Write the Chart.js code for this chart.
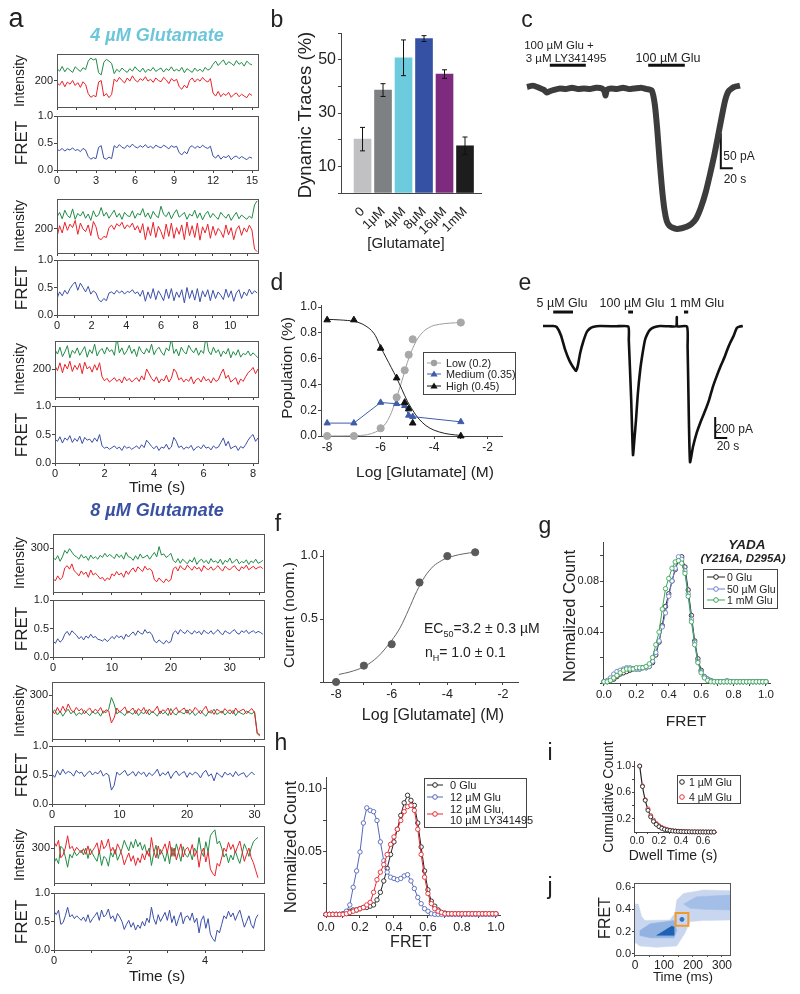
<!DOCTYPE html>
<html><head><meta charset="utf-8">
<script src="https://cdn.jsdelivr.net/npm/chart.js@4.4.1/dist/chart.umd.min.js"></script>
<style>
html,body{margin:0;padding:0;background:#fff;}
#fig{position:relative;width:800px;height:994px;overflow:hidden;font-family:"Liberation Sans",Arial,sans-serif;color:#222;background:#fff;}
#fig canvas{position:absolute;}
.t{position:absolute;white-space:nowrap;transform:translate(-50%,-50%);line-height:1;z-index:3;}
.r{transform:translate(-50%,-50%) rotate(-90deg);}
.lg{position:absolute;border:1px solid #444;background:#fff;box-sizing:border-box;z-index:1;}
#ov{position:absolute;left:0;top:0;z-index:2;}
</style></head><body><div id="fig"></div>
<script>
// ---------- data: panel a, smFRET traces (intensity in a.u., FRET, time step per trace) ----------
const green1 = [238,230,245,228,240,233,226,244,236,229,241,235,262,272,266,270,225,218,258,268,262,255,
  222,236,228,240,232,226,238,230,244,234,228,240,226,236,231,242,229,235,240,227,238,232,244,230,236,
  230,242,225,238,232,226,240,230,236,228,242,233,238,
  252,262,248,258,266,250,260,255,248,264,252,258,246,262,254,250];
const red1 = [192,185,198,180,195,188,200,184,193,178,196,187,158,146,152,148,195,200,150,158,145,155,
  205,196,210,200,192,208,198,215,202,195,206,200,212,198,204,194,208,200,196,210,202,190,206,198,204,
  180,172,185,176,200,208,195,205,198,210,200,195,206,
  160,150,165,148,158,152,162,146,155,160,148,156,150,145,158,152];
const fret1 = [.38,.36,.40,.35,.39,.37,.41,.36,.38,.34,.40,.37,.25,.20,.23,.21,.42,.45,.22,.20,.24,.21,
  .45,.41,.47,.42,.40,.46,.42,.48,.43,.41,.45,.42,.47,.41,.44,.40,.46,.43,.41,.46,.43,.39,.45,.42,.44,
  .32,.28,.34,.30,.42,.45,.40,.44,.41,.46,.42,.40,.44,
  .26,.22,.28,.20,.25,.23,.27,.19,.24,.26,.21,.25,.22,.19,.24,.22];

const green2 = [245,262,238,270,250,242,275,236,258,248,265,240,256,232,268,246,
  252,280,248,262,240,255,270,244,258,236,262,250,246,268,240,258,
  252,276,244,260,238,266,250,242,285,255,246,264,238,258,272,244,
  252,262,236,256,248,270,240,260,234,254,266,242,258,246,236,262,
  250,240,256,232,248,262,238,252,244,236,248,240,290,305];
const red2 = [170,212,185,225,195,218,205,232,180,222,200,190,215,175,228,208,
  165,160,172,168,205,214,198,220,210,225,200,215,206,222,196,212,
  185,220,160,208,175,225,168,210,190,162,218,172,222,165,205,180,
  215,160,226,175,212,168,222,158,208,185,218,165,210,176,202,190,
  168,215,178,205,160,198,212,176,204,188,214,196,125,115];
const fret2 = [.30,.42,.35,.45,.38,.48,.55,.60,.45,.58,.50,.42,.52,.38,.44,.40,
  .28,.24,.30,.26,.40,.42,.38,.45,.40,.44,.38,.43,.41,.46,.39,.42,
  .34,.45,.25,.42,.30,.48,.28,.44,.36,.26,.47,.30,.48,.26,.42,.32,
  .46,.22,.50,.30,.45,.27,.48,.24,.44,.33,.46,.26,.45,.30,.42,.36,
  .28,.47,.32,.44,.25,.40,.46,.30,.42,.35,.47,.38,.44,.40];

const green3 = [262,248,270,240,255,275,236,260,250,268,244,258,272,238,262,250,
  280,242,258,266,248,270,256,262,244,302,252,268,246,258,276,250,
  264,240,272,256,248,266,252,280,246,262,270,254,244,268,258,298,
  250,264,242,270,256,248,276,262,252,268,244,260,250,305,258,246,
  270,252,262,240,258,248,266,236,256,244,262,238,250,246,258,242,252,244,236];
const red3 = [210,195,220,188,215,200,225,192,212,198,218,185,222,200,208,190,
  214,196,220,175,162,170,158,165,172,160,168,155,175,162,170,158,
  166,172,160,178,165,200,185,170,160,175,155,168,162,180,158,170,
  200,190,165,172,158,168,160,175,152,166,170,158,176,162,168,155,
  172,160,165,185,200,170,180,158,165,172,150,168,160,175,188,195,205,185,200];
const fret3 = [.42,.38,.46,.35,.44,.40,.48,.36,.43,.38,.47,.34,.45,.40,.42,.36,
  .44,.38,.50,.30,.26,.28,.24,.27,.30,.25,.28,.22,.30,.26,.28,.24,
  .27,.30,.25,.32,.27,.40,.35,.29,.25,.30,.22,.28,.26,.33,.24,.28,
  .45,.38,.27,.30,.24,.28,.26,.31,.22,.27,.29,.25,.32,.26,.28,.23,
  .30,.26,.28,.36,.44,.30,.38,.25,.28,.30,.22,.29,.26,.32,.40,.46,.50,.38,.44];

const green4 = [268,260,274,255,270,292,282,298,286,275,
  270,262,278,266,272,258,276,264,270,262,275,268,282,270,278,
  272,264,280,268,276,262,285,270,268,258,274,262,280,266,270,276,262,274,
  285,270,305,276,280,268,274,282,
  258,250,264,248,262,254,246,260,252,268,244,256,262,250,258,246,
  264,252,256,248,262,244,258,252,266,248,256,262,246,254,250,260,
  244,256,250,262,248,252,258];
const red4 = [196,188,205,192,200,232,240,228,246,222,
  215,205,222,210,218,200,225,208,214,206,195,200,188,198,192,
  212,205,220,208,215,200,222,210,224,232,218,236,228,220,238,226,230,222,
  192,185,198,188,182,195,186,192,
  228,236,222,240,230,226,242,232,224,238,228,234,220,240,230,226,
  236,224,232,240,228,222,238,230,226,234,240,228,222,236,230,242,
  226,232,238,228,234,236,230];
const fret4 = [.28,.24,.32,.26,.30,.40,.45,.38,.46,.42,
  .38,.32,.36,.30,.37,.33,.40,.34,.36,.31,.30,.28,.32,.27,.31,
  .36,.32,.38,.34,.37,.31,.40,.35,.40,.44,.38,.46,.42,.40,.48,.42,.44,.39,
  .28,.25,.30,.26,.23,.29,.25,.27,
  .42,.46,.40,.48,.44,.41,.47,.43,.40,.46,.42,.45,.39,.47,.43,.41,
  .46,.40,.44,.48,.42,.39,.46,.43,.41,.45,.48,.42,.40,.46,.43,.47,
  .41,.44,.46,.42,.45,.43,.40];

const green5 = [238,250,232,245,228,242,252,236,246,230,240,234,248,238,230,244,
  236,242,228,246,240,252,292,270,236,244,238,230,246,240,234,248,
  230,242,236,250,232,244,238,228,246,236,242,230,254,238,232,246,
  240,236,250,234,244,230,240,248,236,228,244,238,252,234,240,246,
  232,242,236,248,230,244,238,234,246,240,236,244,170,165];
const red5 = [246,236,258,240,262,244,270,250,242,258,246,254,236,248,256,240,
  252,244,258,238,250,246,205,222,256,242,250,260,238,248,256,236,
  254,244,258,236,252,240,248,262,236,250,244,256,232,248,258,240,
  250,256,238,252,242,258,248,236,250,262,240,248,234,252,246,238,
  254,244,250,236,256,242,248,252,236,246,254,240,168,160];
const fret5 = [.52,.46,.58,.50,.60,.52,.56,.54,.48,.58,.53,.55,.47,.53,.57,.50,
  .55,.52,.58,.48,.53,.50,.24,.32,.55,.50,.54,.58,.49,.52,.56,.48,
  .56,.51,.55,.47,.54,.49,.53,.60,.48,.54,.50,.56,.44,.52,.57,.49,
  .53,.56,.46,.54,.50,.55,.52,.45,.54,.58,.48,.52,.40,.54,.50,.46,
  .55,.50,.53,.47,.56,.49,.52,.54,.46,.51,.55,.50];

const green6 = [258,270,255,305,298,275,245,282,272,290,278,286,294,280,300,270,
  298,284,272,262,292,250,276,270,248,288,274,296,265,280,298,322,
  306,292,318,300,325,304,316,294,310,282,300,250,284,308,270,296,
  282,262,292,255,302,276,312,288,262,304,280,274,290,266,300,286,
  330,290,276,318,288,335,345,352,312,320,300,274,284,258,280,266,
  292,272,256,284,312,296,276,300,318,325,330];
const red6 = [318,305,322,272,280,300,335,298,305,290,302,294,286,298,282,306,
  280,292,302,315,284,322,298,306,326,290,302,282,312,298,280,252,
  270,286,262,278,250,272,258,284,266,292,276,330,290,272,306,282,
  296,312,286,320,276,300,266,290,312,274,296,302,286,310,276,292,
  245,286,300,260,290,240,228,220,256,248,272,300,290,316,296,310,
  286,304,320,290,262,282,300,272,258,236,215];
const fret6 = [.68,.62,.70,.45,.48,.60,.75,.58,.62,.55,.60,.56,.52,.58,.50,.62,
  .48,.55,.60,.66,.52,.70,.58,.62,.72,.55,.60,.50,.64,.58,.50,.36,
  .45,.52,.40,.48,.35,.44,.38,.50,.42,.56,.48,.75,.55,.45,.62,.50,
  .58,.66,.52,.70,.48,.60,.42,.55,.66,.46,.58,.60,.52,.65,.48,.56,
  .30,.52,.60,.38,.55,.28,.20,.15,.35,.30,.45,.60,.55,.68,.58,.65,
  .52,.62,.70,.55,.40,.50,.60,.45,.38,.55,.62];

const timeTicks1 = [0, 3, 6, 9, 12, 15];
const timeTicks2 = [0, 2, 4, 6, 8, 10];
const timeTicks3 = [0, 2, 4, 6, 8];
const timeTicks4 = [0, 10, 20, 30];
const timeTicks5 = [0, 10, 20, 30];
const timeTicks6 = [0, 2, 4];

// ---------- panel b ----------
const bLabels = ['0', '1μM', '4μM', '8μM', '16μM', '1mM'];
const bValues = [20.2, 38.6, 50.7, 57.9, 44.6, 17.7];
const bErrors = [4.4, 2.4, 6.7, 1.1, 1.6, 3.3];
const bColors = ['#c1c1c3', '#7e8184', '#6ccbdc', '#3551a3', '#7d2a7f', '#1d1d1d'];

// ---------- panel c (time s, current pA) ----------
const cTime = [0,10,20,28,33,38,45,55,65,75,85,95,105,115,125,129,131,133,140,150,
  160,170,180,190,200,208,213,217,221,225,229,233,237,242,250,258,266,274,282,290,
  298,305,312,318,324,330,336,345,355];
const cCurrent = [0,2,-1,-4,-8,-6,-4,-2,-3,-1,-3,-2,-3,-1,-2,-6,-12,-4,-2,-3,
  -1,-3,-2,-1,-3,-5,-25,-60,-105,-145,-175,-192,-198,-201,-203,-202,-200,-196,-188,-172,
  -150,-125,-98,-72,-45,-20,-6,0,2];
const cApplyLY = [38, 98];
const cApplyGlu = [202, 263];
const cBarLevel = 31;
const cScaleT = [323, 343];
const cScaleI = [-66, -116];

// ---------- panel d ----------
const dLogC = [-8, -7, -6, -5.4, -5.1, -4.95, -4.8, -3];
const dLow = [0, 0, 0.06, 0.30, 0.51, 0.63, 0.75, 0.88];
const dMedium = [0.10, 0.10, 0.26, 0.25, 0.235, 0.16, 0.15, 0.11];
const dHigh = [0.90, 0.90, 0.68, 0.45, 0.26, 0.21, 0.10, 0.0];
const dLowFitX = [-8,-7,-6.5,-6.2,-6,-5.8,-5.6,-5.4,-5.2,-5,-4.8,-4.6,-4.4,-4.2,-4,-3.6,-3.2,-3];
const dLowFitY = [0,0.002,0.01,0.03,0.055,0.1,0.18,0.3,0.43,0.57,0.68,0.76,0.81,0.84,0.858,0.872,0.878,0.88];
const dHighFitX = [-8,-7.5,-7,-6.7,-6.4,-6.2,-6,-5.8,-5.6,-5.4,-5.2,-5,-4.8,-4.6,-4.3,-4,-3.6,-3.2,-3];
const dHighFitY = [0.905,0.9,0.89,0.87,0.83,0.78,0.69,0.61,0.53,0.45,0.36,0.27,0.2,0.14,0.08,0.045,0.02,0.008,0.005];

// ---------- panel e (time s, current pA) ----------
const eTime = [0,17,23,30,37,44,50,55,58,62,67,73,78,83,95,120,142,143,147,150,
  152,155,158,162,166,170,174,178,185,195,210,222,223,224,240,241,242,245,250,256,
  262,270,277,283,290,297,303,307,312,318,323,328,333];
const eCurrent = [0,0,-10,-90,-228,-330,-390,-428,-380,-257,-150,-57,-25,-10,0,-3,-5,-133,-705,-1228,
  -1100,-895,-650,-419,-260,-133,-75,-38,-12,0,-3,-2,85,-2,-5,-200,-514,-1295,-1150,-1020,
  -923,-810,-700,-581,-470,-370,-290,-228,-160,-90,-19,-5,0];
const eApply = [[17, 50], [142, 150], [235, 242]];
const eBarLevel = 133;
const eScaleT = [287, 307];
const eScaleI = [-866, -1066];

// ---------- panel f ----------
const fLogC = [-8, -7, -6, -5, -4, -3];
const fCurrent = [0.0, 0.13, 0.30, 0.79, 1.0, 1.03];
const fErr = [0, 0, 0, 0.025, 0, 0];
const fFitX = [-7.9,-7.5,-7,-6.5,-6,-5.7,-5.4,-5.1,-4.8,-4.5,-4.2,-4,-3.6,-3.2,-3];
const fFitY = [0.06,0.08,0.12,0.2,0.33,0.43,0.57,0.72,0.84,0.92,0.965,0.985,1.01,1.025,1.03];

// ---------- panels g, h (FRET histograms, bins every 0.02) ----------
const fretBins = [0,.02,.04,.06,.08,.10,.12,.14,.16,.18,.20,.22,.24,.26,.28,.30,.32,.34,.36,.38,.40,
  .42,.44,.46,.48,.50,.52,.54,.56,.58,.60,.62,.64,.66,.68,.70,.72,.74,.76,.78,.80,
  .82,.84,.86,.88,.90,.92,.94,.96,.98,1.0];
const gNoGlu = [.001,.001,.002,.003,.005,.007,.008,.009,.010,.011,.011,.011,.012,.012,.013,.016,.022,.032,.045,.060,.070,
  .080,.089,.096,.099,.091,.073,.053,.033,.019,.010,.005,.003,.002,.001,.001,.001,.001,.001,.001,.001,
  .001,.001,.001,.001,.001,.001,.001,.001,.001,.001];
const g50uM = [.001,.002,.004,.007,.009,.010,.011,.012,.012,.011,.011,.011,.012,.012,.013,.017,.024,.033,.044,.055,.068,
  .080,.090,.099,.097,.088,.070,.050,.032,.017,.009,.005,.003,.002,.001,.001,.001,.001,.002,.001,.001,
  .001,.001,.001,.001,.001,.001,.001,.001,.001,.001];
const g1mM = [.001,.001,.002,.004,.006,.008,.010,.011,.011,.011,.012,.012,.012,.013,.015,.020,.030,.040,.058,.074,.082,
  .090,.095,.096,.094,.086,.068,.048,.030,.016,.008,.004,.002,.001,.001,.001,.001,.001,.001,.001,.001,
  .001,.001,.001,.001,.001,.001,.001,.001,.001,.001];
const hNoGlu = [.0005,.0005,.0005,.0005,.0005,.001,.002,.003,.004,.004,.005,.006,.006,.007,.008,.012,.018,.027,.037,.048,.058,
  .068,.079,.089,.095,.091,.087,.073,.054,.035,.020,.011,.007,.004,.002,.0015,.001,.001,.001,.001,.001,
  .001,.001,.001,.001,.001,.001,.001,.001,.001,.001];
const h12uM = [.0005,.0005,.0005,.0005,.0005,.001,.003,.008,.022,.035,.050,.073,.085,.083,.082,.075,.058,.043,.034,.030,.029,
  .028,.029,.031,.032,.027,.021,.014,.009,.005,.003,.001,.0005,.0005,.0005,.0005,.0005,.0005,.0005,.0005,.0005,
  .0005,.0005,.0005,.0005,.0005,.0005,.0005,.0005,.0005,.0005];
const h12uMLY = [.0005,.0005,.0005,.0005,.0005,.0005,.001,.002,.003,.004,.005,.006,.008,.010,.018,.028,.034,.040,.048,.056,.062,
  .068,.075,.082,.086,.087,.083,.068,.048,.030,.017,.009,.005,.003,.002,.001,.001,.001,.001,.001,.001,
  .001,.001,.001,.001,.001,.001,.001,.001,.001,.001];

// ---------- panel i ----------
const iDwell = [.025,.05,.075,.1,.125,.15,.175,.2,.225,.25,.275,.3,.325,.35,.375,.4,.425,.45,.475,.5,.525,.55,.575,.6,.625,.65,.675,.7];
const i1uM = [1.0,.69,.48,.33,.23,.16,.115,.08,.056,.04,.03,.022,.016,.012,.009,.007,.005,.004,.003,.002,.002,.001,.001,.001,0,0,0,0];
const i4uM = [1.0,.70,.49,.35,.25,.18,.13,.095,.07,.05,.037,.027,.02,.015,.011,.008,.006,.005,.004,.003,.002,.002,.001,.001,.001,0,0,0];
const iFitX = [.025,.05,.075,.1,.125,.15,.2,.25,.3,.35,.4,.5,.6,.7];
const iFitY = [1.0,.69,.485,.34,.24,.17,.087,.045,.024,.013,.007,.002,.0008,.0003];

// ---------- panel j (contour regions: time ms, FRET) ----------
const jLight = [[-3.4,.447],[11.5,.447],[23,.334],[34.5,.30],[120,.304],[138,.364],[144,.483],[167,.543],[236,.573],[328,.567],
  [328,.304],[236,.30],[190,.29],[172,.185],[144,.072],[75,.06],[17,.072],[-3.4,.11]];
const jMid = [[17,.21],[52,.27],[135,.30],[144,.21],[135,.145],[52,.145],[17,.165]];
const jMidUpper = [[167,.447],[213,.513],[328,.528],[328,.394],[236,.40],[190,.41]];
const jDark = [[75,.167],[135,.167],[135,.242],[127,.25]];
const jMark = [162, 0.31];

// ---------- helpers ----------
const fig = document.getElementById('fig');
Chart.defaults.font.family = '"Liberation Sans", Arial, sans-serif';
Chart.defaults.color = '#222';

function canvasAt(l, t, w, h) {
  const c = document.createElement('canvas');
  c.width = w; c.height = h;
  c.style.left = l + 'px'; c.style.top = t + 'px';
  c.style.width = w + 'px'; c.style.height = h + 'px';
  fig.appendChild(c);
  return c;
}

const framePlugin = {
  id: 'frame',
  afterDraw(chart, args, opts) {
    if (!opts.on) return;
    const { ctx, chartArea: a } = chart;
    ctx.save();
    ctx.strokeStyle = '#555'; ctx.lineWidth = 1;
    ctx.strokeRect(Math.round(a.left) + 0.5, Math.round(a.top) + 0.5, Math.round(a.right - a.left), Math.round(a.bottom - a.top));
    ctx.restore();
  }
};

const errPlugin = {
  id: 'errbars',
  afterDatasetsDraw(chart) {
    const { ctx } = chart;
    const ys = chart.scales.y;
    chart.data.datasets.forEach((ds, di) => {
      if (!ds.errors) return;
      const meta = chart.getDatasetMeta(di);
      ctx.save();
      ctx.strokeStyle = ds.errColor || '#222';
      ctx.lineWidth = 1;
      meta.data.forEach((el, i) => {
        const e = ds.errors[i];
        if (!e) return;
        const v = ds.data[i].y;
        const x = el.x, yt = ys.getPixelForValue(v + e), yb = ys.getPixelForValue(v - e);
        const w = ds.capW || 2.5;
        ctx.beginPath();
        ctx.moveTo(x, yt); ctx.lineTo(x, yb);
        ctx.moveTo(x - w, yt); ctx.lineTo(x + w, yt);
        ctx.moveTo(x - w, yb); ctx.lineTo(x + w, yb);
        ctx.stroke();
      });
      ctx.restore();
    });
  }
};

function clearPad(s) { s.paddingLeft = s.paddingRight = s.paddingTop = s.paddingBottom = 0; }

function ax(min, max, ticks, fmt, o = {}) {
  return {
    type: 'linear', min, max, offset: false,
    afterBuildTicks: s => { s.ticks = ticks.map(v => ({ value: v })); },
    ticks: {
      display: !!fmt, callback: fmt ? (v => fmt(v)) : (() => ''), autoSkip: false,
      maxRotation: o.rot || 0, minRotation: o.rot || 0,
      padding: o.pad ?? 1, font: { size: o.size || 11 }, color: '#222'
    },
    grid: { display: true, drawOnChartArea: false, drawTicks: true, tickLength: o.tl ?? 3, color: '#444', lineWidth: 1 },
    border: { display: true, color: '#444', width: 1 }
  };
}

// pad = room (px) left / top / right / bottom of the plot area; the axes own the left and bottom room
function axisChart(area, pad, type, datasets, xs, ys, frame) {
  const [x0, y0, x1, y1] = area;
  const [pl, pt, pr, pb] = pad;
  xs.afterFit = s => { s.height = pb; clearPad(s); };
  ys.afterFit = s => { s.width = pl; clearPad(s); };
  const cv = canvasAt(x0 - pl, y0 - pt, x1 - x0 + pl + pr, y1 - y0 + pt + pb);
  return new Chart(cv, {
    type, data: { datasets },
    options: {
      responsive: false, animation: false, events: [],
      layout: { autoPadding: false, padding: { left: 0, top: pt, right: pr, bottom: 0 } },
      plugins: { legend: { display: false }, tooltip: { enabled: false }, frame: { on: !!frame } },
      scales: { x: xs, y: ys }
    },
    plugins: [framePlugin, errPlugin]
  });
}

function freeChart(l, t, w, h, xr, yr, datasets) {
  const cv = canvasAt(l, t, w, h);
  return new Chart(cv, {
    type: 'line', data: { datasets },
    options: {
      responsive: false, animation: false, events: [],
      layout: { autoPadding: false, padding: 0 },
      plugins: { legend: { display: false }, tooltip: { enabled: false } },
      scales: {
        x: { type: 'linear', display: false, min: xr[0], max: xr[1] },
        y: { type: 'linear', display: false, min: yr[0], max: yr[1] }
      }
    }
  });
}

const series = (vals, dt) => vals.map((v, i) => ({ x: i * dt, y: v }));
const pairs = (xs, ys) => xs.map((x, i) => ({ x, y: ys[i] }));
const poly = pts => pts.concat([pts[0]]).map(p => ({ x: p[0], y: p[1] }));
const line = (data, color, w, extra = {}) => Object.assign({ data, borderColor: color, borderWidth: w, pointRadius: 0, fill: false, clip: false }, extra);
const pts = (data, color, style, r, extra = {}) => Object.assign({ data, showLine: false, pointStyle: style, pointRadius: r, pointBackgroundColor: color, pointBorderColor: color, borderColor: color, clip: false }, extra);
const f1 = v => v.toFixed(1);
const onTicks = (list, f) => v => list.some(t => Math.abs(t - v) < 1e-6) ? f(v) : '';

function txt(x, y, s, size, o = {}) {
  const d = document.createElement('div');
  d.className = 't' + (o.rot ? ' r' : '');
  d.style.left = x + 'px'; d.style.top = y + 'px';
  d.style.fontSize = size + 'px';
  if (o.bold) d.style.fontWeight = 'bold';
  if (o.italic) d.style.fontStyle = 'italic';
  if (o.color) d.style.color = o.color;
  if (o.left) d.style.transform = 'translate(0,-50%)';
  d.innerHTML = s;
  fig.appendChild(d);
}
function legendBox(l, t, w, h) {
  const d = document.createElement('div');
  d.className = 'lg';
  d.style.left = l + 'px'; d.style.top = t + 'px';
  d.style.width = w + 'px'; d.style.height = h + 'px';
  fig.appendChild(d);
}

// ---------- panel a ----------
const GREEN = '#1f8c45', RED = '#ea2128', BLUE = '#3b4fa7';
const traces = [
  { I: [57, 54, 258, 107], F: [57, 116, 258, 170], xmax: 15.46, dt: 0.2, g: green1, r: red1, f: fret1, imin: 115, imax: 285, itick: 200, ticks: timeTicks1, minor: 1.5 },
  { I: [57, 199, 258, 253], F: [57, 260, 258, 315], xmax: 11.6, dt: 0.15, g: green2, r: red2, f: fret2, imin: 110, imax: 312, itick: 200, ticks: timeTicks2, minor: 1 },
  { I: [55, 341, 258, 397], F: [55, 406, 258, 463], xmax: 8.2, dt: 0.1, g: green3, r: red3, f: fret3, imin: 110, imax: 290, itick: 200, ticks: timeTicks3, minor: 1 },
  { I: [53, 534, 264, 592], F: [53, 600, 264, 657], xmax: 35.8, dt: 0.4, g: green4, r: red4, f: fret4, imin: 150, imax: 348, itick: 300, ticks: timeTicks4, minor: 5 },
  { I: [52, 682, 264, 739], F: [52, 746, 264, 804], xmax: 31.4, dt: 0.4, g: green5, r: red5, f: fret5, imin: 150, imax: 345, itick: 300, ticks: timeTicks5, minor: 5 },
  { I: [54, 826, 264, 883], F: [54, 893, 264, 950], xmax: 5.56, dt: 0.06, g: green6, r: red6, f: fret6, imin: 200, imax: 363, itick: 300, ticks: timeTicks6, minor: 1 }
];
traces.forEach(tr => {
  const minorTicks = [];
  for (let v = 0; v <= tr.xmax + 1e-9; v += tr.minor) minorTicks.push(+v.toFixed(4));
  axisChart(tr.I, [30, 2, 8, 8], 'line',
    [line(series(tr.r, tr.dt), RED, 1, { clip: 0 }), line(series(tr.g, tr.dt), GREEN, 1, { clip: 0 })],
    ax(0, tr.xmax, minorTicks, null),
    ax(tr.imin, tr.imax, [tr.itick], v => String(v)), true);
  axisChart(tr.F, [30, 6, 8, 16], 'line',
    [line(series(tr.f, tr.dt), BLUE, 1, { clip: 0 })],
    ax(0, tr.xmax, minorTicks, onTicks(tr.ticks, v => String(v))),
    ax(0, 1, [0, 0.5, 1], f1), true);
  txt(19, (tr.I[1] + tr.I[3]) / 2, 'Intensity', 14, { rot: true });
  txt(21, (tr.F[1] + tr.F[3]) / 2, 'FRET', 17, { rot: true });
});
txt(157, 35, '4 µM Glutamate', 18, { bold: true, italic: true, color: '#6cc6d9' });
txt(157, 510, '8 µM Glutamate', 18, { bold: true, italic: true, color: '#3a51a3' });
txt(157, 487, 'Time (s)', 15.5);
txt(157, 976, 'Time (s)', 15.5);

// ---------- panel b ----------
const bX = ax(-1.05, 5.78, [0, 1, 2, 3, 4, 5], v => bLabels[v], { rot: 45, size: 13, pad: 3, tl: 0 });
bX.grid = { display: false };
axisChart([341, 33, 481, 193], [40, 4, 10, 42], 'bar',
  [{ data: pairs([0, 1, 2, 3, 4, 5], bValues), backgroundColor: bColors, barThickness: 17, errors: bErrors, errColor: '#111' }],
  bX,
  ax(0, 60, [0, 10, 20, 30, 40, 50, 60], onTicks([10, 30, 50], v => String(v)), { size: 16, pad: 2 }));
txt(305, 115, 'Dynamic Traces (%)', 18.5, { rot: true });
txt(406, 242, '[Glutamate]', 15);

// ---------- panel c ----------
freeChart(520, 55, 225, 185, [-11.67, 363.33], [-218.8, 45.8], [
  line(pairs(cTime, cCurrent), '#3c3c3c', 6, { tension: 0.15 }),
  line(pairs(cApplyLY, [cBarLevel, cBarLevel]), '#111', 3),
  line(pairs(cApplyGlu, [cBarLevel, cBarLevel]), '#111', 3),
  line(pairs([cScaleT[0], cScaleT[0], cScaleT[1]], [cScaleI[0], cScaleI[1], cScaleI[1]]), '#111', 2)
]);
txt(559, 46, '100 µM Glu +', 11.5);
txt(566, 59, '3 µM LY341495', 11.5);
txt(668, 58, '100 µM Glu', 12.5);
txt(739, 156, '50 pA', 12);
txt(735, 179, '20 s', 12);

// ---------- panel d ----------
axisChart([321, 305, 502, 436], [45, 8, 10, 20], 'line', [
  pts(pairs(dLogC, dHigh), '#111', 'triangle', 3.8),
  pts(pairs(dLogC, dLow), '#a8a8a8', 'circle', 3.6),
  line(pairs(dLogC, dMedium), '#3f5cab', 1, { pointStyle: 'triangle', pointRadius: 3.6, pointBackgroundColor: '#3f5cab' }),
  line(pairs(dHighFitX, dHighFitY), '#222', 1, { tension: 0.3 }),
  line(pairs(dLowFitX, dLowFitY), '#9c9c9c', 1, { tension: 0.3 })
], ax(-8.23, -1.46, [-8, -7, -6, -5, -4, -3, -2], onTicks([-8, -6, -4, -2], v => String(v)), { size: 12, pad: 1 }),
   ax(0, 1.016, [0, 0.2, 0.4, 0.6, 0.8, 1.0], f1, { size: 12 }));
txt(287, 368, 'Population (%)', 15.5, { rot: true });
txt(425, 472, 'Log [Glutamate] (M)', 15.5);

// ---------- panel e ----------
const eSeries = [line(pairs(eTime, eCurrent), '#111', 2.6, { tension: 0.2 })];
eApply.forEach(a => eSeries.push(line(pairs(a, [eBarLevel, eBarLevel]), '#111', 3)));
eSeries.push(line(pairs([eScaleT[0], eScaleT[0], eScaleT[1]], [eScaleI[0], eScaleI[1], eScaleI[1]]), '#111', 2));
freeChart(535, 295, 215, 175, [-13.33, 345], [-1370.9, 295.1], eSeries);
txt(562, 303, '5 µM Glu', 12.5);
txt(632, 303, '100 µM Glu', 12.5);
txt(697, 303, '1 mM Glu', 12.5);
txt(734, 429, '200 pA', 12);
txt(728, 446, '20 s', 12);

// ---------- panel f ----------
axisChart([323, 550, 518, 682], [40, 6, 10, 20], 'line', [
  pts(pairs(fLogC, fCurrent), '#5a5a5a', 'circle', 3.6, { errors: fErr, errColor: '#555', capW: 2.5 }),
  line(pairs(fFitX, fFitY), '#666', 1, { tension: 0.3 })
], ax(-8.47, -1.46, [-8, -7, -6, -5, -4, -3, -2], onTicks([-8, -6, -4, -2], v => String(v)), { size: 12.5, pad: 2 }),
   ax(0, 1.048, [0, 0.5, 1.0], v => v === 0 ? '' : f1(v), { size: 12.5, pad: 2 }));
txt(289, 615, 'Current (norm.)', 15.5, { rot: true });
txt(433, 715, 'Log [Glutamate] (M)', 16);
txt(424, 630, 'EC<sub style="font-size:9px">50</sub>=3.2 ± 0.3 µM', 14, { left: true });
txt(425, 654, 'n<sub style="font-size:9px">H</sub>= 1.0 ± 0.1', 14, { left: true });

// ---------- panel g ----------
const ring = (data, color) => line(data, color, 1, { pointStyle: 'circle', pointRadius: 2.2, pointBorderWidth: 0.9, pointBackgroundColor: '#fff', pointBorderColor: color });
axisChart([603, 542, 770, 683], [40, 6, 10, 18], 'line', [
  ring(pairs(fretBins, g1mM), '#3aa757'),
  ring(pairs(fretBins, g50uM), '#6f7fcf'),
  ring(pairs(fretBins, gNoGlu), '#222')
], ax(-0.006, 1.025, [0, .1, .2, .3, .4, .5, .6, .7, .8, .9, 1.0], onTicks([0, .2, .4, .6, .8, 1], f1), { size: 11.5, pad: 2 }),
   ax(0, 0.1106, [0, 0.02, 0.04, 0.06, 0.08, 0.10], onTicks([0.04, 0.08], v => v.toFixed(2)), { size: 11 }));
txt(569, 616, 'Normalized Count', 16.5, { rot: true });
txt(686, 721, 'FRET', 15.5);
txt(747, 545, 'YADA', 13.5, { bold: true, italic: true });
txt(743, 559, '(Y216A, D295A)', 11.5, { bold: true, italic: true });
legendBox(703, 569, 75, 40);

// ---------- panel h ----------
axisChart([326, 777, 500, 915], [40, 6, 10, 18], 'line', [
  ring(pairs(fretBins, h12uMLY), '#ea2630'),
  ring(pairs(fretBins, h12uM), '#5566bb'),
  ring(pairs(fretBins, hNoGlu), '#222')
], ax(0, 1.024, [0, .1, .2, .3, .4, .5, .6, .7, .8, .9, 1.0], onTicks([0, .2, .4, .6, .8, 1], f1), { size: 12.5, pad: 2 }),
   ax(0, 0.1095, [0, 0.025, 0.05, 0.075, 0.10], onTicks([0.05, 0.10], v => v.toFixed(2)), { size: 12.5 }));
txt(290, 847, 'Normalized Count', 16.5, { rot: true });
txt(411, 942, 'FRET', 16);
legendBox(424, 778, 103, 50);

// ---------- panel i ----------
const ringSmall = (data, color) => pts(data, '#fff', 'circle', 2, { pointBorderColor: color, pointBorderWidth: 0.9 });
axisChart([634, 761, 716, 832], [30, 6, 30, 14], 'line', [
  ringSmall(pairs(iDwell, i1uM), '#222'),
  ringSmall(pairs(iDwell, i4uM), '#e8333a'),
  line(pairs(iFitX, iFitY), '#222', 1.2, { tension: 0.3 })
], ax(-0.027, 0.718, [0, .1, .2, .3, .4, .5, .6, .7], onTicks([0, .2, .4, .6], f1), { size: 10.5, pad: 1, tl: 2 }),
   ax(0, 1.077, [0.2, 0.4, 0.6, 0.8, 1.0], onTicks([0.2, 0.6, 1.0], f1), { size: 10.5, tl: 2 }));
txt(608, 797, 'Cumulative Count', 14, { rot: true });
txt(673, 855, 'Dwell Time (s)', 14);
legendBox(677, 775, 64, 29);

// ---------- panel j ----------
const shape = (p, color, order) => ({ data: poly(p), borderColor: color, backgroundColor: color, borderWidth: 0.5, pointRadius: 0, fill: 'shape', tension: 0, order });
axisChart([634, 883, 730, 955], [30, 6, 10, 14], 'line', [
  shape(jLight, '#c8d7ef', 5),
  shape(jMid, '#92b2e2', 4),
  shape(jMidUpper, '#a3bfe8', 4),
  shape(jDark, '#1f62b4', 3),
  pts([{ x: jMark[0], y: jMark[1] }], '#3a6fc0', 'circle', 2, { order: 2 }),
  pts([{ x: jMark[0], y: jMark[1] }], 'rgba(0,0,0,0)', 'rect', 9, { pointBorderColor: '#f2992e', pointBorderWidth: 2, order: 1 })
], ax(-3.4, 327.6, [0, 50, 100, 150, 200, 250, 300], onTicks([0, 100, 200, 300], v => String(v)), { size: 12, pad: 1, tl: 2 }),
   ax(-0.009, 0.636, [0, 0.2, 0.4, 0.6], f1, { size: 11, tl: 2 }), true);
txt(605, 918, 'FRET', 16, { rot: true });
txt(683, 977, 'Time (ms)', 13.5);

// ---------- legends ----------
legendBox(423, 352, 93, 43);
const NS = 'http://www.w3.org/2000/svg';
const ov = document.createElementNS(NS, 'svg');
ov.setAttribute('id', 'ov'); ov.setAttribute('width', 800); ov.setAttribute('height', 994);
fig.appendChild(ov);
function sv(tag, attrs) { const e = document.createElementNS(NS, tag); for (const k in attrs) e.setAttribute(k, attrs[k]); ov.appendChild(e); }
function glyph(cx, cy, color, kind, half) {
  if (half) sv('line', { x1: cx - half, y1: cy, x2: cx + half, y2: cy, stroke: color, 'stroke-width': 1 });
  if (kind === 'dot') sv('circle', { cx, cy, r: 3.2, fill: color });
  if (kind === 'ring') sv('circle', { cx, cy, r: 2.3, fill: '#fff', stroke: color, 'stroke-width': 1 });
  if (kind === 'tri') sv('polygon', { points: `${cx},${cy - 3.6} ${cx + 3.6},${cy + 2.6} ${cx - 3.6},${cy + 2.6}`, fill: color });
}
glyph(434, 363, '#a0a0a0', 'dot', 7); txt(446, 363, 'Low (0.2)', 10.8, { left: true });
glyph(434, 374, '#3f5cab', 'tri', 7); txt(446, 374, 'Medium (0.35)', 10.8, { left: true });
glyph(434, 386, '#111', 'tri', 7); txt(446, 386, 'High (0.45)', 10.8, { left: true });

glyph(716, 577, '#222', 'ring', 9); txt(727, 577, '0 Glu', 10.5, { left: true });
glyph(716, 589, '#6f7fcf', 'ring', 9); txt(727, 589, '50 µM Glu', 10.5, { left: true });
glyph(716, 600, '#3aa757', 'ring', 9); txt(727, 600, '1 mM Glu', 10.5, { left: true });

glyph(435, 785, '#222', 'ring', 8); txt(450, 785, '0 Glu', 11, { left: true });
glyph(435, 797, '#5566bb', 'ring', 8); txt(450, 797, '12 µM Glu', 11, { left: true });
glyph(435, 814, '#ea2630', 'ring', 8); txt(450, 809, '12 µM Glu,', 11, { left: true });
txt(450, 820, '10 µM LY341495', 11, { left: true });

glyph(682, 782, '#222', 'ring', 0); txt(689, 782, '1 µM Glu', 10.5, { left: true });
glyph(682, 797, '#e8333a', 'ring', 0); txt(689, 797, '4 µM Glu', 10.5, { left: true });

// ---------- panel letters ----------
[['a', 16, 18, 27], ['b', 277, 19, 23], ['c', 527, 19, 23], ['d', 277, 282, 23], ['e', 525, 282, 23],
 ['f', 278, 523, 23], ['g', 545, 525, 23], ['h', 281, 742, 23], ['i', 550, 752, 23], ['j', 550, 886, 23]]
  .forEach(([s, x, y, size]) => txt(x, y, s, size));
</script></body></html>
